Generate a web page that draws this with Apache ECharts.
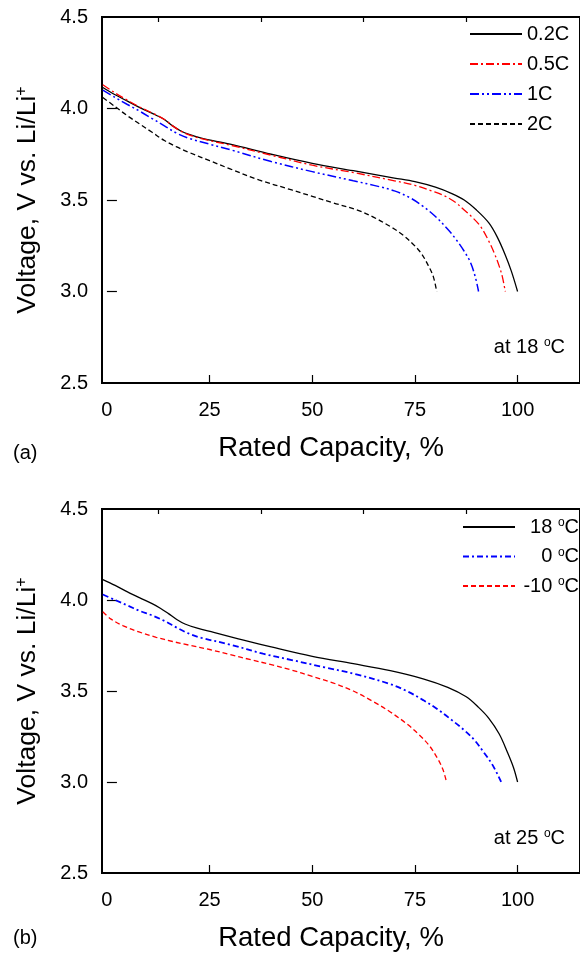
<!DOCTYPE html>
<html>
<head>
<meta charset="utf-8">
<script src="https://cdn.jsdelivr.net/npm/echarts@6/dist/echarts.min.js"></script>
<style>
    html, body { margin: 0; padding: 0; background: #fff; }
    #chart { width: 580px; height: 953px; }
</style>
</head>
<body>
<div id="chart"></div>
<script>
    // (a) discharge at different C-rates, 18 oC
    let cap_02C = [-1, 2, 5, 8, 12, 14, 16, 18, 20, 23, 30, 40, 50, 60, 70, 75, 80, 84, 87, 90, 93, 95, 97, 98.5, 100];
    let volt_02C = [4.115, 4.075, 4.04, 4.005, 3.963, 3.94, 3.905, 3.877, 3.858, 3.838, 3.805, 3.75, 3.70, 3.66, 3.62, 3.60, 3.57, 3.535, 3.50, 3.445, 3.375, 3.30, 3.20, 3.11, 3.00];
    let cap_05C = [-1, 2, 5, 8, 12, 14, 16, 18, 20, 23, 30, 40, 50, 60, 70, 75, 79, 82, 85, 87, 89, 91, 93, 94.5, 95.5, 96.3, 97];
    let volt_05C = [4.13, 4.085, 4.045, 4.008, 3.965, 3.94, 3.905, 3.876, 3.856, 3.835, 3.80, 3.745, 3.69, 3.65, 3.605, 3.58, 3.55, 3.525, 3.485, 3.445, 3.405, 3.355, 3.275, 3.20, 3.14, 3.08, 3.00];
    let cap_1C = [-1, 2, 5, 8, 11, 14, 17, 20, 25, 30, 40, 50, 60, 65, 70, 74, 77, 80, 83, 85, 87, 88.5, 89.7, 90.5];
    let volt_1C = [4.10, 4.06, 4.022, 3.985, 3.945, 3.905, 3.865, 3.837, 3.805, 3.775, 3.71, 3.655, 3.605, 3.58, 3.55, 3.51, 3.465, 3.41, 3.34, 3.285, 3.22, 3.16, 3.08, 3.00];
    let cap_2C = [-1, 2, 5, 8, 11, 14, 17, 20, 25, 30, 37, 45, 50, 55, 61, 65, 69, 72, 74.5, 76.5, 78.3, 79.5, 80.3];
    let volt_2C = [4.06, 4.01, 3.96, 3.915, 3.87, 3.825, 3.79, 3.76, 3.715, 3.67, 3.61, 3.555, 3.52, 3.485, 3.445, 3.405, 3.355, 3.31, 3.26, 3.21, 3.14, 3.08, 3.00];

    // (b) discharge at different temperatures, 25 oC
    let cap_18 = [-1, 2, 5, 8, 11, 13, 15, 17, 19, 22, 26, 32, 40, 50, 60, 69, 77, 83, 87.5, 90.5, 93, 95.5, 97.5, 99, 100];
    let volt_18 = [4.112, 4.08, 4.045, 4.012, 3.98, 3.955, 3.925, 3.893, 3.868, 3.845, 3.822, 3.787, 3.742, 3.69, 3.65, 3.612, 3.567, 3.52, 3.468, 3.41, 3.35, 3.265, 3.165, 3.08, 3.00];
    let cap_0 = [-1, 2, 5, 8, 11, 14, 17, 20, 23, 30, 38, 45, 53, 61, 69, 73, 77, 80.5, 84, 87, 89.5, 91.7, 94, 96];
    let volt_0 = [4.03, 4.00, 3.97, 3.94, 3.915, 3.885, 3.848, 3.815, 3.792, 3.755, 3.705, 3.67, 3.63, 3.59, 3.538, 3.50, 3.45, 3.40, 3.34, 3.285, 3.23, 3.165, 3.09, 3.00];
    let cap_m10 = [-1, 1, 4, 8, 12, 16, 20, 25, 30, 35, 40, 45, 50, 55, 60, 65, 69, 73, 76, 78.5, 80.5, 81.8, 82.7];
    let volt_m10 = [3.935, 3.895, 3.858, 3.823, 3.795, 3.772, 3.752, 3.728, 3.70, 3.672, 3.645, 3.615, 3.58, 3.545, 3.50, 3.44, 3.385, 3.32, 3.26, 3.20, 3.13, 3.07, 3.00];

    // tick labels
    let xLabels = [0, 25, 50, 75, 100];
    let xMajorTicks = [25, 50, 75, 100];
    let xMinorTicks = [12.5, 37.5, 62.5, 87.5];
    let yInnerTicks = [3.0, 3.5, 4.0];

    let font = 'Liberation Sans, Arial, sans-serif';

    function pairs(xs, ys) {
        return xs.map(function (x, i) { return [x, ys[i]]; });
    }

    function line(name, xs, ys, color, dash, width, idx) {
        return {
            name: name,
            type: 'line',
            xAxisIndex: idx * 2,
            yAxisIndex: idx,
            data: pairs(xs, ys),
            symbol: 'none',
            smooth: 0.35,
            itemStyle: {color: color},
            lineStyle: {color: color, width: width, type: dash},
            z: 3
        };
    }

    function mainX(grid) {
        return {
            type: 'value', gridIndex: grid, min: -1.2, max: 115.2,
            axisLine: {show: false},
            splitLine: {show: false},
            axisTick: {inside: true, length: 8, customValues: xMajorTicks, lineStyle: {color: '#000', width: 1.2}},
            axisLabel: {customValues: xLabels, margin: 17, fontSize: 20, color: '#000', fontFamily: font},
            name: 'Rated Capacity, %',
            nameLocation: 'middle',
            nameGap: 51,
            nameTextStyle: {fontSize: 27.5, color: '#000', fontFamily: font, padding: [0, 20, 0, 0]}
        };
    }

    function minorX(grid) {
        return {
            type: 'value', gridIndex: grid, min: -1.2, max: 115.2,
            axisLine: {show: false},
            splitLine: {show: false},
            axisTick: {inside: true, length: 5, customValues: xMinorTicks, lineStyle: {color: '#000', width: 1.2}},
            axisLabel: {show: false}
        };
    }

    function mainY(grid) {
        return {
            type: 'value', gridIndex: grid, min: 2.5, max: 4.5, interval: 0.5,
            axisLine: {show: false},
            splitLine: {show: false},
            axisTick: {inside: true, length: 10, customValues: yInnerTicks, lineStyle: {color: '#000', width: 1.2}},
            axisLabel: {
                margin: 14, fontSize: 20, color: '#000', fontFamily: font,
                formatter: function (v) { return v.toFixed(1); }
            },
            name: 'Voltage, V vs. Li/Li{sup|+}',
            nameLocation: 'middle',
            nameRotate: 90,
            nameGap: 60,
            nameTextStyle: {
                fontSize: 26.5, color: '#000', fontFamily: font, lineHeight: 28,
                rich: {sup: {fontSize: 16, fontFamily: font, color: '#000', verticalAlign: 'top', lineHeight: 16}}
            }
        };
    }

    function degText(str) {
        return '{t|' + str.replace(' °C', '') + ' }{s|o}{t|C}';
    }

    let richDeg = {
        t: {fontSize: 20, fontFamily: font, color: '#000', lineHeight: 20, align: 'right'},
        s: {fontSize: 12, fontFamily: font, color: '#000', lineHeight: 12, verticalAlign: 'top', align: 'right'}
    };

    let chart = echarts.init(document.getElementById('chart'), null, {renderer: 'canvas'});

    chart.setOption({
        animation: false,
        backgroundColor: '#fff',
        grid: [
            {left: 102, top: 17, right: -4, height: 366, show: true, borderColor: '#000', borderWidth: 2},
            {left: 102, top: 509, right: -4, height: 366, show: true, borderColor: '#000', borderWidth: 2}
        ],
        xAxis: [mainX(0), minorX(0), mainX(1), minorX(1)],
        yAxis: [mainY(0), mainY(1)],
        legend: [
            {
                data: ['0.2C', '0.5C', '1C', '2C'],
                orient: 'vertical', left: 469, top: 24, padding: 0,
                itemWidth: 52, itemHeight: 14, itemGap: 10,
                itemStyle: {opacity: 0},
                textStyle: {fontSize: 20, lineHeight: 20, color: '#000', fontFamily: font},
                selectedMode: false
            },
            {
                data: ['18 °C', '0 °C', '-10 °C'],
                orient: 'vertical', left: 462, top: 517, padding: 0,
                itemWidth: 52, itemHeight: 14, itemGap: 9.5,
                itemStyle: {opacity: 0},
                formatter: degText,
                textStyle: {width: 59, fontSize: 20, lineHeight: 20, color: '#000', fontFamily: font, rich: richDeg},
                selectedMode: false
            }
        ],
        graphic: [
            {type: 'text', x: 565, y: 347, style: {text: 'at 18 {s|o}C', align: 'right', verticalAlign: 'middle',
                fontSize: 20, lineHeight: 20, fontFamily: font, fill: '#000', rich: {s: richDeg.s}}},
            {type: 'text', x: 565, y: 838, style: {text: 'at 25 {s|o}C', align: 'right', verticalAlign: 'middle',
                fontSize: 20, lineHeight: 20, fontFamily: font, fill: '#000', rich: {s: richDeg.s}}},
            {type: 'text', x: 13, y: 453, style: {text: '(a)', verticalAlign: 'middle', fontSize: 20, fontFamily: font, fill: '#000'}},
            {type: 'text', x: 13, y: 938, style: {text: '(b)', verticalAlign: 'middle', fontSize: 20, fontFamily: font, fill: '#000'}}
        ],
        series: [
            line('0.2C', cap_02C, volt_02C, '#000', 'solid', 1.3, 0),
            line('0.5C', cap_05C, volt_05C, '#ff0000', [8, 3, 2, 3], 1.3, 0),
            line('1C', cap_1C, volt_1C, '#0000ff', [9, 3, 2, 3, 2, 3], 1.5, 0),
            line('2C', cap_2C, volt_2C, '#000', [5, 3], 1.3, 0),
            line('18 °C', cap_18, volt_18, '#000', 'solid', 1.3, 1),
            line('0 °C', cap_0, volt_0, '#0000ff', [6, 3, 2, 3], 1.8, 1),
            line('-10 °C', cap_m10, volt_m10, '#ff0000', [5, 3], 1.3, 1)
        ]
    });
</script>
</body>
</html>
